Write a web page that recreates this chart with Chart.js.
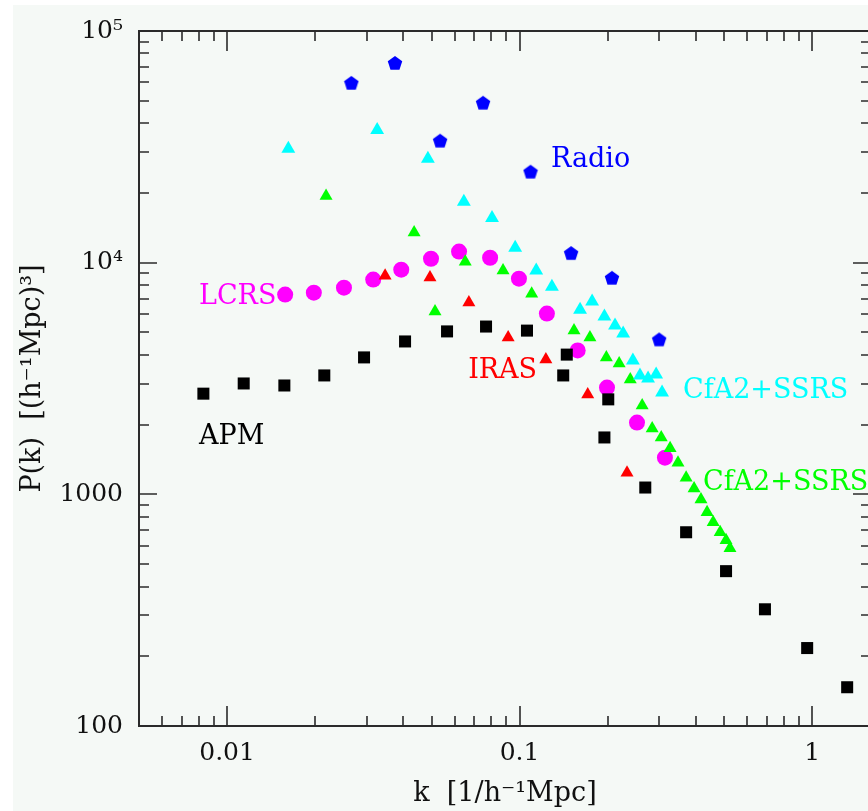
<!DOCTYPE html>
<html>
<head>
<meta charset="utf-8">
<title>P(k)</title>
<script src="https://cdn.jsdelivr.net/npm/chart.js@4.4.1/dist/chart.umd.min.js"></script>
<style>
  html, body { margin: 0; padding: 0; background: #fff; overflow: hidden; }
  #pkChart { position: absolute; left: 0; top: 0; }
</style>
</head>
<body>
<canvas id="pkChart" width="880" height="811"></canvas>
<script>
// k [h/Mpc] and P(k) [(h^-1 Mpc)^3]
const apmK = [0.0083, 0.0114, 0.0157, 0.0215, 0.0294, 0.0406, 0.0565, 0.0768, 0.106, 0.145, 0.141,
              0.201, 0.195, 0.269, 0.371, 0.508, 0.690, 0.962, 1.318];
const apmP = [2720, 3010, 2950, 3260, 3900, 4570, 5050, 5300, 5090, 4010, 3260,
              2570, 1760, 1070, 686, 466, 319, 217, 147];

const lcrsK = [0.0158, 0.0198, 0.0251, 0.0316, 0.0394, 0.0498, 0.0621, 0.0793, 0.0995, 0.124,
               0.158, 0.199, 0.252, 0.314];
const lcrsP = [7280, 7420, 7800, 8450, 9330, 10400, 11160, 10500, 8530, 6030,
               4180, 2890, 2040, 1440];

const radioK = [0.0266, 0.0375, 0.0535, 0.0750, 0.109, 0.150, 0.207, 0.300];
const radioP = [59700, 72800, 33600, 49000, 24700, 11000, 8600, 4660];

const cfaCyanK = [0.0162, 0.0326, 0.0486, 0.0645, 0.0805, 0.0966, 0.114, 0.129, 0.161, 0.177,
                  0.195, 0.212, 0.226, 0.244, 0.258, 0.275, 0.293, 0.307];
const cfaCyanP = [31000, 37400, 28100, 18300, 15600, 11600, 9240, 7880, 6270, 6790,
                  5850, 5350, 4940, 3780, 3260, 3160, 3290, 2750];

const cfaGreenK = [0.0218, 0.0436, 0.0514, 0.0652, 0.0878, 0.110, 0.1535, 0.174, 0.198, 0.219,
                   0.239, 0.2625, 0.284, 0.305, 0.327, 0.348, 0.371, 0.395, 0.417, 0.4375,
                   0.459, 0.485, 0.508, 0.524];
const cfaGreenP = [19400, 13500, 6150, 10100, 9240, 7350, 5090, 4750, 3900, 3670,
                   3130, 2420, 1925, 1760, 1580, 1370, 1180, 1060, 951, 836,
                   757, 686, 634, 585];

const irasK = [0.0347, 0.0494, 0.0671, 0.0914, 0.123, 0.171, 0.233];
const irasP = [8790, 8620, 6730, 4750, 3820, 2700, 1240];

// axis ticks
const xTickValues = [0.01, 0.1, 1];
const xTickLabels = ['0.01', '0.1', '1'];
const yTickValues = [100, 1000, 10000, 100000];
const yTickLabels = ['100', '1000', '10\u2074', '10\u2075'];

// survey names written next to the points
const notes = [
  { text: 'Radio', k: 0.128, p: 27800, color: '#0000ff' },
  { text: 'LCRS', k: 0.00802, p: 7135, color: '#ff00ff' },
  { text: 'APM', k: 0.00802, p: 1762, color: '#000000' },
  { text: 'IRAS', k: 0.0667, p: 3424, color: '#ff0000' },
  { text: 'CfA2+SSRS', k: 0.362, p: 2780, color: '#00ffff' },
  { text: 'CfA2+SSRS', k: 0.4236, p: 1115, color: '#00ff00' }
];

const serif = '"DejaVu Serif", "Liberation Serif", serif';

// pentagon marker for the radio points
const pentagon = document.createElement('canvas');
pentagon.width = 16;
pentagon.height = 16;
const pg = pentagon.getContext('2d');
pg.fillStyle = '#0000ff';
pg.beginPath();
for (let i = 0; i < 5; i++) {
  const a = -Math.PI / 2 + i * 2 * Math.PI / 5;
  pg.lineTo(8 + 7.6 * Math.cos(a), 8.7 + 7.6 * Math.sin(a));
}
pg.closePath();
pg.fill();

function series(label, ks, ps, style, color, radius) {
  return {
    label: label,
    data: ks.map((k, i) => ({ x: k, y: ps[i] })),
    pointStyle: style,
    backgroundColor: color,
    borderColor: color,
    borderWidth: 0,
    pointRadius: radius,
    pointHoverRadius: radius,
    showLine: false
  };
}

const background = {
  id: 'background',
  beforeDraw(chart) {
    const ctx = chart.ctx;
    ctx.save();
    ctx.fillStyle = '#f5f9f6';
    ctx.fillRect(13, 5, chart.width - 13, chart.height - 5);
    ctx.restore();
  }
};

// box with inward ticks on all four sides
const frame = {
  id: 'frame',
  beforeDatasetsDraw(chart) {
    const { ctx, chartArea: a, scales: { x, y } } = chart;
    ctx.save();
    ctx.strokeStyle = '#2b2b2b';
    ctx.lineWidth = 2;
    ctx.strokeRect(a.left, a.top, a.right - a.left, a.bottom - a.top);
    ctx.lineWidth = 1.6;
    ctx.beginPath();
    for (let d = -3; d <= 1; d++) {
      for (let m = 1; m < 10; m++) {
        const v = m * Math.pow(10, d);
        if (v >= x.min && v <= x.max) {
          const px = Math.round(x.getPixelForValue(v));
          const len = m === 1 ? 20 : 10;
          ctx.moveTo(px, a.bottom); ctx.lineTo(px, a.bottom - len);
          ctx.moveTo(px, a.top); ctx.lineTo(px, a.top + len);
        }
      }
    }
    for (let d = 2; d <= 5; d++) {
      for (let m = 1; m < 10; m++) {
        const v = m * Math.pow(10, d);
        if (v >= y.min && v <= y.max) {
          const py = Math.round(y.getPixelForValue(v));
          const len = m === 1 ? 18 : 10;
          ctx.moveTo(a.left, py); ctx.lineTo(a.left + len, py);
          ctx.moveTo(a.right, py); ctx.lineTo(a.right - len, py);
        }
      }
    }
    ctx.stroke();
    ctx.restore();
  }
};

const surveyNames = {
  id: 'surveyNames',
  afterDatasetsDraw(chart) {
    const { ctx, scales: { x, y } } = chart;
    ctx.save();
    ctx.font = '27px ' + serif;
    ctx.textAlign = 'left';
    ctx.textBaseline = 'middle';
    notes.forEach(n => {
      ctx.fillStyle = n.color;
      ctx.fillText(n.text, x.getPixelForValue(n.k), y.getPixelForValue(n.p));
    });
    ctx.restore();
  }
};

const ctx = document.getElementById('pkChart').getContext('2d');
new Chart(ctx, {
  type: 'scatter',
  data: {
    datasets: [
      series('APM', apmK, apmP, 'rect', '#000000', 8.5),
      series('Radio', radioK, radioP, pentagon, '#0000ff', 8),
      series('CfA2+SSRS (cyan)', cfaCyanK, cfaCyanP, 'triangle', '#00ffff', 8),
      series('CfA2+SSRS (green)', cfaGreenK, cfaGreenP, 'triangle', '#00ff00', 7.5),
      series('IRAS', irasK, irasP, 'triangle', '#ff0000', 7.5),
      series('LCRS', lcrsK, lcrsP, 'circle', '#ff00ff', 8)
    ]
  },
  options: {
    responsive: false,
    animation: false,
    layout: { padding: { left: 0, top: 30, right: 9, bottom: 0 } },
    plugins: {
      legend: { display: false },
      tooltip: { enabled: false }
    },
    scales: {
      x: {
        type: 'logarithmic',
        min: 0.005,
        max: 1.59,
        grid: { display: false, drawTicks: false },
        border: { display: false },
        afterBuildTicks: s => { s.ticks = xTickValues.map(v => ({ value: v })); },
        afterFit: s => { s.height = 85; },
        ticks: {
          padding: 12,
          color: '#111',
          font: { family: serif, size: 25 },
          maxRotation: 0,
          callback: v => xTickLabels[xTickValues.indexOf(v)]
        },
        title: {
          display: true,
          text: 'k  [1/h\u207B\u00B9Mpc]',
          color: '#111',
          font: { family: serif, size: 27 },
          padding: { top: 0, bottom: 1 }
        }
      },
      y: {
        type: 'logarithmic',
        min: 100,
        max: 100000,
        grid: { display: false, drawTicks: false },
        border: { display: false },
        afterBuildTicks: s => { s.ticks = yTickValues.map(v => ({ value: v })); },
        afterFit: s => { s.width = 139; },
        ticks: {
          padding: 16,
          color: '#111',
          font: { family: serif, size: 25 },
          callback: v => yTickLabels[yTickValues.indexOf(v)]
        },
        title: {
          display: true,
          text: 'P(k)  [(h\u207B\u00B9Mpc)\u00B3]',
          color: '#111',
          font: { family: serif, size: 27 },
          padding: { top: 17, bottom: 0 }
        }
      }
    }
  },
  plugins: [background, frame, surveyNames]
});
</script>
</body>
</html>
